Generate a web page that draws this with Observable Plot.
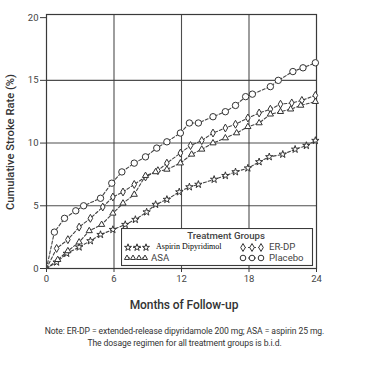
<!DOCTYPE html>
<html><head><meta charset="utf-8">
<script src="https://cdn.jsdelivr.net/npm/d3@7"></script>
<script src="https://cdn.jsdelivr.net/npm/@observablehq/plot@0.6"></script>
<style>
body{margin:0;background:#fff;font-family:Roboto,Arial,sans-serif;}
#wrap{position:relative;width:373px;height:365px;background:#fff;overflow:hidden;}
#xtitle{position:absolute;left:0;top:298px;width:368px;text-align:center;font-size:12px;font-weight:500;color:#333;letter-spacing:-0.1px;}
#note{position:absolute;left:0;top:326px;width:369px;text-align:center;font-size:8.6px;line-height:11.5px;color:#333;letter-spacing:-0.1px;}
#legend{position:absolute;left:121px;top:228px;}
</style></head><body><div id="wrap"></div>
<script>
// ---- data ----
const groups = ["Aspirin Dipyridimol", "ER-DP", "ASA", "Placebo"];
const groupSymbols = ["star", "diamond", "triangle", "circle"];
const xTicks = [0, 6, 12, 18, 24];
const yTicks = [0, 5, 10, 15, 20];

const placeboMonths = [0,0.7,1.6,2.6,3.3,4.8,5.8,6.7,7.8,8.8,9.8,10.7,11.9,12.7,13.5,14.8,15.9,16.8,17.7,18.3,19.9,20.6,21.9,22.8,23.9];
const placeboRate   = [0,2.9,4.0,4.6,5.0,5.6,6.8,7.7,8.4,8.9,9.6,10.1,10.8,11.6,11.6,12.1,12.5,13.0,13.7,13.9,14.5,15.0,15.7,16.0,16.4];

const erdpMonths = [0,0.9,1.9,2.9,3.9,5.0,5.9,6.8,7.8,8.8,9.9,10.7,11.9,12.8,13.8,14.8,15.9,16.8,17.9,18.9,19.9,20.8,21.8,22.7,23.9];
const erdpRate   = [0,1.6,2.3,3.3,4.0,4.9,5.7,6.1,6.7,7.3,7.8,8.4,9.2,9.8,10.2,10.8,11.2,11.5,12.0,12.4,12.7,13.1,13.2,13.4,13.8];

const asaMonths = [0,1.0,1.9,2.9,3.8,4.9,5.9,6.8,7.8,8.8,9.7,10.7,11.9,12.9,13.8,14.8,15.9,16.9,17.9,18.9,19.9,20.8,21.7,22.6,23.9];
const asaRate   = [0,0.7,1.4,2.1,3.0,3.5,4.4,5.2,5.9,7.4,7.7,7.9,8.4,9.1,9.5,10.0,10.4,10.8,11.3,11.6,12.3,12.5,12.7,13.0,13.3];

const adpMonths = [0,0.9,1.8,2.9,3.9,4.8,5.9,7.0,7.9,8.9,9.7,10.7,11.8,12.7,13.5,14.9,15.9,16.8,17.9,18.9,19.8,21.0,22.1,23.1,23.9];
const adpRate   = [0,0.5,1.2,1.7,2.2,2.7,3.1,3.5,3.9,4.5,5.1,5.5,6.1,6.5,6.7,7.1,7.4,7.7,8.0,8.5,8.9,9.1,9.5,9.8,10.2];

const seriesMonths = [adpMonths, erdpMonths, asaMonths, placeboMonths];
const seriesRates  = [adpRate, erdpRate, asaRate, placeboRate];

const rows = groups.flatMap((g, i) => seriesMonths[i].map((m, j) => ({group: g, month: m, rate: seriesRates[i][j]})));

const ink = "#3a3a3a";
const symbolR = {star: 2.3, diamond: 2.4, triangle: 2.3, circle: 3.2};
const chart = Plot.plot({
  width: 373, height: 292,
  marginLeft: 46, marginRight: 57, marginTop: 14, marginBottom: 24,
  style: {fontFamily: "Roboto, Arial, sans-serif", fontSize: "9.5px", color: "#444", background: "white", overflow: "visible"},
  x: {domain: [0, 24], label: null},
  y: {domain: [0, 20.25], label: null},
  symbol: {domain: groups, range: groupSymbols},
  marks: [
    Plot.gridX(xTicks.slice(1, -1), {stroke: ink, strokeOpacity: 0.9, strokeWidth: 1.1}),
    Plot.gridY(yTicks.slice(1, -1), {stroke: ink, strokeOpacity: 0.9, strokeWidth: 1.1}),
    Plot.frame({stroke: ink, strokeWidth: 1.2}),
    Plot.axisX({ticks: xTicks, tickSize: 4, tickPadding: 3, stroke: ink}),
    Plot.axisY({ticks: yTicks, tickSize: 6, tickPadding: 2, stroke: ink}),
    Plot.line(rows, {x: "month", y: "rate", z: "group", stroke: "#444", strokeWidth: 1.1, strokeDasharray: "3,2"}),
    ...groups.map((g, i) => Plot.dot(rows.filter(d => d.group === g && d.month > 0),
      {x: "month", y: "rate", symbol: "group", r: symbolR[groupSymbols[i]], fill: "white", stroke: "#333", strokeWidth: 1}))
  ]
});

d3.select(chart).append("text")
  .attr("transform", "translate(11,142) rotate(-90)")
  .attr("text-anchor", "middle").attr("dominant-baseline", "middle")
  .attr("font-size", "11.2px").attr("font-weight", 500).attr("fill", "#333")
  .text("Cumulative Stroke Rate (%)");

const wrap = document.getElementById("wrap");
wrap.appendChild(chart);

const xt = document.createElement("div");
xt.id = "xtitle"; xt.textContent = "Months of Follow-up";
wrap.appendChild(xt);

const note = document.createElement("div");
note.id = "note";
note.innerHTML = "Note: ER-DP = extended-release dipyridamole 200 mg; ASA = aspirin 25 mg.<br>The dosage regimen for all treatment groups is b.i.d.";
wrap.appendChild(note);

// ---- legend ----
const symMap = {star: d3.symbolStar, diamond: d3.symbolDiamond, triangle: d3.symbolTriangle, circle: d3.symbolCircle};
const lg = d3.create("svg").attr("id", "legend").attr("width", 193).attr("height", 39);
lg.append("rect").attr("x", 0.5).attr("y", 0.5).attr("width", 191).attr("height", 37)
  .attr("fill", "white").attr("stroke", ink).attr("stroke-width", 1.1);
lg.append("text").attr("x", 105).attr("y", 8).attr("text-anchor", "middle").attr("dominant-baseline", "middle")
  .attr("font-size", "9.6px").attr("font-weight", 500).attr("fill", "#444").text("Treatment Groups");
const items = [
  {g: groups[0], xs: [7, 16, 25], y: 19.5, tx: 35, font: "'Liberation Serif', 'DejaVu Serif', serif", fs: "8px", fill: "#000", r: 2.2},
  {g: groups[1], xs: [122, 131, 140], y: 19.5, tx: 148, font: "Roboto, Arial, sans-serif", fs: "9.6px", fill: "#444", r: 2.4},
  {g: groups[2], xs: [6, 12, 18, 24], y: 30, tx: 30, font: "Roboto, Arial, sans-serif", fs: "9.6px", fill: "#444", r: 1.9},
  {g: groups[3], xs: [122, 131, 140], y: 30, tx: 148, font: "Roboto, Arial, sans-serif", fs: "9.6px", fill: "#444", r: 2.8}
];
items.forEach(it => {
  const s = groupSymbols[groups.indexOf(it.g)];
  lg.append("line").attr("x1", it.xs[0]).attr("x2", it.xs[it.xs.length - 1]).attr("y1", it.y).attr("y2", it.y)
    .attr("stroke", "#444").attr("stroke-dasharray", "3,2");
  it.xs.forEach(x => {
    lg.append("path").attr("d", d3.symbol(symMap[s], Math.PI * it.r * it.r)())
      .attr("transform", `translate(${x},${it.y})`).attr("fill", "white").attr("stroke", "#333");
  });
  lg.append("text").attr("x", it.tx).attr("y", it.y).attr("dominant-baseline", "middle")
    .attr("font-family", it.font).attr("font-size", it.fs).attr("fill", it.fill).text(it.g);
});
wrap.appendChild(lg.node());
</script>
</body></html>
